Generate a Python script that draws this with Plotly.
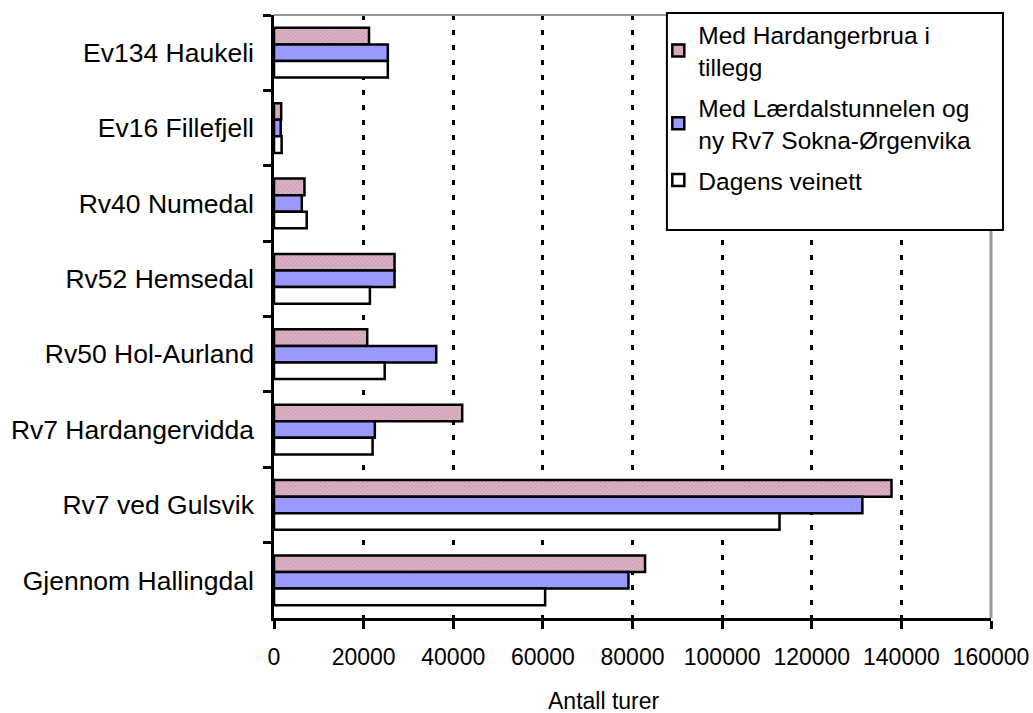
import plotly.graph_objects as go

# Road sections, listed top to bottom as shown on the chart
routes = [
    "Ev134 Haukeli",
    "Ev16 Fillefjell",
    "Rv40 Numedal",
    "Rv52 Hemsedal",
    "Rv50 Hol-Aurland",
    "Rv7 Hardangervidda",
    "Rv7 ved Gulsvik",
    "Gjennom Hallingdal",
]

# Number of trips per scenario
med_hardangerbrua = [21200, 1600, 6800, 26900, 20800, 42000, 137800, 82800]
med_laerdalstunnelen = [25400, 1500, 6200, 26900, 36200, 22500, 131300, 79100]
dagens_veinett = [25400, 1700, 7300, 21400, 24700, 22000, 112800, 60500]

series_names = [
    "Med Hardangerbrua i<br>tillegg",
    "Med Lærdalstunnelen og<br>ny Rv7 Sokna-Ørgenvika",
    "Dagens veinett",
]

x_ticks = [0, 20000, 40000, 60000, 80000, 100000, 120000, 140000, 160000]

FONT = "Arial, Liberation Sans, sans-serif"
OUTLINE = dict(color="black", width=2.5)

fig = go.Figure()
fig.add_trace(go.Bar(
    y=routes, x=med_hardangerbrua, orientation="h", name=series_names[0],
    legendgroup="a",
    marker=dict(
        color="#d7a9c0", line=OUTLINE,
        pattern=dict(shape="x", bgcolor="#dcb2c7", fgcolor="#b27893",
                     size=3, solidity=0.35),
    ),
))
fig.add_trace(go.Bar(
    y=routes, x=med_laerdalstunnelen, orientation="h", name=series_names[1],
    legendgroup="b",
    marker=dict(color="#9999ff", line=OUTLINE),
))
fig.add_trace(go.Bar(
    y=routes, x=dagens_veinett, orientation="h", name=series_names[2],
    legendgroup="c",
    marker=dict(color="white", line=OUTLINE),
))

fig.update_layout(
    width=1033, height=713,
    margin=dict(l=274, r=42, t=15, b=95, autoexpand=False),
    paper_bgcolor="white", plot_bgcolor="white",
    font=dict(family=FONT, color="black"),
    barmode="group", bargap=0.34, bargroupgap=0,
    showlegend=True,
    legend=dict(
        x=0.536, y=1.0047, xanchor="left", yanchor="top",
        bgcolor="rgba(0,0,0,0)", borderwidth=0,
        font=dict(family=FONT, size=24.5, color="black"),
        traceorder="grouped", tracegroupgap=6,
        itemclick=False, itemdoubleclick=False,
    ),
)

fig.update_xaxes(
    range=[0, 160000], tickvals=x_ticks, ticktext=[str(v) for v in x_ticks],
    showline=True, linecolor="black", linewidth=2.5,
    ticks="outside", ticklen=8, tickwidth=2.5, tickcolor="black",
    tickfont=dict(family=FONT, size=23, color="black"),
    ticklabelstandoff=9, automargin=False,
    showgrid=True, gridcolor="black", gridwidth=3, griddash="5px,10px",
    zeroline=False, fixedrange=True,
)
fig.update_yaxes(
    autorange="reversed", type="category",
    showline=True, linecolor="black", linewidth=2.5,
    ticks="outside", ticklen=8, tickwidth=2.5, tickcolor="black",
    tickson="boundaries",
    tickfont=dict(family=FONT, size=26.5, color="black"),
    ticklabelstandoff=12, automargin=False,
    showgrid=False, zeroline=False, fixedrange=True,
)

# Grey frame on the top and right of the plotting area
fig.add_shape(type="line", xref="paper", yref="paper", x0=0, x1=1, y0=1, y1=1,
              line=dict(color="#999999", width=2), layer="above")
fig.add_shape(type="line", xref="paper", yref="paper", x0=1, x1=1, y0=0, y1=1,
              line=dict(color="#999999", width=3), layer="above")

# Legend frame
fig.add_shape(type="rect", xref="paper", yref="paper",
              x0=0.548, x1=1.0167, y0=0.6434, y1=1.0033,
              line=dict(color="black", width=2), fillcolor="white", layer="above")

# Horizontal axis title
fig.add_annotation(text="Antall turer", xref="paper", yref="paper",
                   x=0.4603, y=-0.1376, xanchor="center", yanchor="middle",
                   showarrow=False, font=dict(family=FONT, size=23, color="black"))

fig.write_html("out.html")
